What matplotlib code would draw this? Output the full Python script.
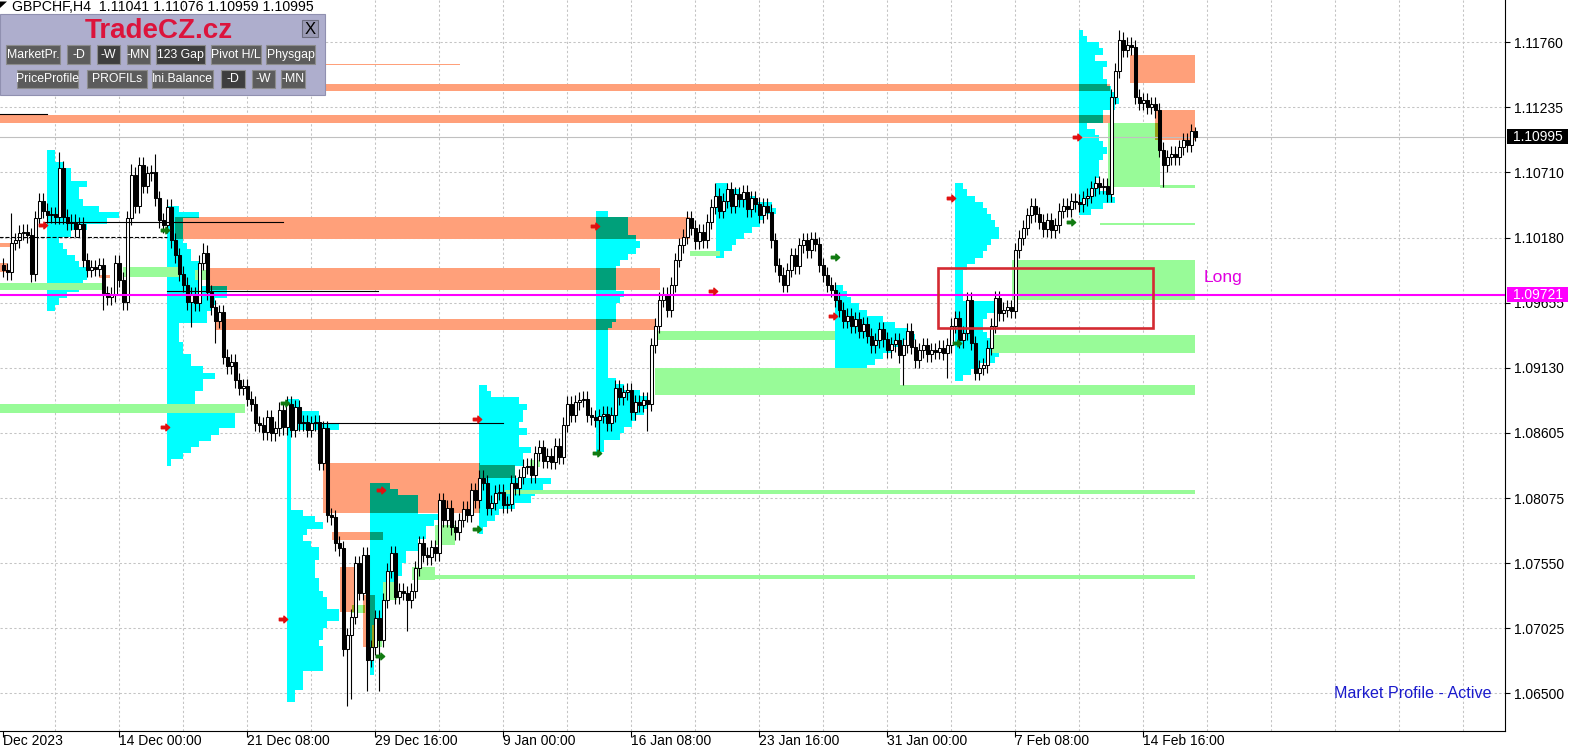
import numpy as np
import matplotlib
matplotlib.use("Agg")
import matplotlib.pyplot as plt
from matplotlib.patches import Rectangle, Polygon
from matplotlib.path import Path

plt.rcParams['font.family'] = ['Liberation Sans', 'DejaVu Sans']

PIP = 0.0001

# ── GBPCHF H4 candles (closes in pips, open = previous close) ─────────────
closes = [
    10992, 10990, 11014, 11016, 11022, 11023, 11020, 10989, 11034, 11048,
    11040, 11036, 11037, 11035, 11074, 11035, 11030, 11031, 11025, 11029,
    11000, 10992, 10994, 10993, 10996, 10973, 10970, 10972, 10998, 10984,
    10966, 11034, 11069, 11044, 11077, 11060, 11070, 11071, 11050, 11032,
    11028, 11043, 11016, 11004, 10989, 10980, 10966, 10972, 10965, 10998,
    11006, 10974, 10962, 10951, 10958, 10922, 10914, 10918, 10903, 10897,
    10898, 10888, 10884, 10868, 10867, 10861, 10873, 10860, 10864, 10879,
    10865, 10884, 10863, 10881, 10868, 10869, 10863, 10868, 10869, 10836,
    10864, 10794, 10792, 10771, 10767, 10686, 10697, 10712, 10755, 10731,
    10762, 10677, 10687, 10711, 10693, 10725, 10749, 10763, 10728, 10733,
    10731, 10725, 10733, 10751, 10771, 10762, 10760, 10768, 10763, 10806,
    10790, 10800, 10784, 10780, 10790, 10799, 10794, 10814, 10806, 10824,
    10820, 10800, 10804, 10812, 10813, 10802, 10803, 10820, 10816, 10825,
    10833, 10834, 10826, 10844, 10849, 10838, 10842, 10837, 10850, 10841,
    10867, 10884, 10875, 10885, 10887, 10888, 10875, 10873, 10871, 10874,
    10876, 10868, 10875, 10897, 10889, 10893, 10895, 10877, 10885, 10883,
    10887, 10884, 10931, 10947, 10968, 10972, 10960, 10980, 11000, 11012,
    11019, 11034, 11026, 11015, 11023, 11016, 11031, 11043, 11052, 11040,
    11048, 11057, 11044, 11053, 11049, 11055, 11041, 11050, 11045, 11036,
    11044, 11039, 11016, 10996, 10988, 10980, 10992, 11004, 10995, 11012,
    11016, 11008, 11017, 11013, 10996, 10988, 10980, 10976, 10968, 10960,
    10951, 10955, 10947, 10952, 10943, 10948, 10939, 10931, 10935, 10944,
    10936, 10927, 10932, 10935, 10923, 10931, 10943, 10930, 10919, 10927,
    10931, 10924, 10927, 10926, 10929, 10925, 10931, 10947, 10953, 10935,
    10941, 10968, 10933, 10909, 10913, 10915, 10929, 10947, 10969, 10957,
    10960, 10962, 10959, 11008, 11018, 11026, 11036, 11044, 11037, 11031,
    11025, 11032, 11024, 11028, 11040, 11044, 11041, 11048, 11047, 11045,
    11050, 11052, 11058, 11062, 11059, 11060, 11053, 11132, 11153, 11178,
    11170, 11174, 11172, 11132, 11127, 11129, 11124, 11126, 11121, 11089,
    11077, 11083, 11086, 11083, 11091, 11097, 11093, 11104, 11099.5,
]
first_open = 10996
wick = 6  # typical wick length, pips
high_marks = {2: 11038, 14: 11087, 32: 11078, 38: 11086, 50: 11014,
              178: 11062, 181: 11062, 279: 11186, 298: 11107.6}
low_marks = {7: 10982, 25: 10960, 47: 10946, 53: 10933, 86: 10640, 87: 10645,
             91: 10652, 94: 10652, 101: 10700, 149: 10844, 161: 10862,
             225: 10899, 236: 10905, 290: 11059, 298: 11095.9}

price_ticks = ["1.11760", "1.11235", "1.10710", "1.10180", "1.09655", "1.09130",
               "1.08605", "1.08075", "1.07550", "1.07025", "1.06500"]
date_labels = ["14 Dec 00:00", "21 Dec 08:00", "29 Dec 16:00", "9 Jan 00:00",
               "16 Jan 08:00", "23 Jan 16:00", "31 Jan 00:00", "7 Feb 08:00",
               "14 Feb 16:00"]
first_label = "Dec 2023"
first_tick_bar, bars_per_label, bars_per_grid = 29, 32, 16

last_price = 1.10995
long_level = 1.09721

# zones: (bar from, bar to, top pips, bottom pips)
salmon_zones = [
    (-1, 276.7, 11142, 11136.5), (-1, 276.7, 11117, 11110.5),
    (80.4, 114.2, 11158.5, 11157.3), (42.9, 171.7, 11034.7, 11016.9),
    (50.7, 164.2, 10993.5, 10975.7), (52.9, 162.9, 10952.2, 10943.4),
    (79.9, 119.2, 10835.9, 10795.5), (119.2, 127.9, 10834.3, 10823.8),
    (82.2, 94.9, 10780.1, 10773.7), (84.2, 88.7, 10751.9, 10715.5),
    (89.9, 92.9, 10729.2, 10687.2), (281.7, 297.9, 11165.6, 11142.9),
    (287.9, 297.9, 11121.1, 11096.9), (23.9, 26.7, 10987.8, 10985.4),
    (-1, 1.7, 11013.7, 11010.4), (-1, 0.9, 10997.5, 10990.2),
]
green_zones = [
    (-1, 60.4, 10883.6, 10876.3), (-1, 24.7, 10981.3, 10975.7),
    (29.9, 44.2, 10994.3, 10986.2), (47.9, 50.9, 10991.8, 10983.8),
    (162.9, 207.9, 10942.6, 10935.3), (162.9, 224.2, 10912.7, 10898.9),
    (162.9, 297.9, 10898.9, 10890.8), (252.2, 297.9, 10999.9, 10967.6),
    (247.2, 297.9, 10939.3, 10924.8), (125.4, 297.9, 10814.1, 10810.8),
    (106.7, 297.9, 10745.4, 10742.2), (274.2, 297.9, 11030.2, 11028.2),
    (276.2, 289.2, 11110.6, 11058.9), (289.2, 297.9, 11060.5, 11058.1),
    (171.7, 179.2, 11007.2, 11003.2), (107.9, 112.9, 10785.8, 10769.6),
    (102.2, 107.9, 10751.9, 10741.4), (94.9, 98.4, 10739.7, 10725.2),
    (87.2, 90.4, 10721.2, 10714.7), (92.2, 94.7, 10705.0, 10687.2),
    (131.7, 134.2, 10838.3, 10832.7),
]

# market profiles: first bar, top pips, bars per 5-pip row
profile_starts = [10.9, 40.9, 70.9, 91.7, 118.9, 148.2, 178.2, 207.9, 237.9, 268.9]
profile_tops = [11089, 11044, 10888, 10820, 10899, 11040, 11062, 10980, 11062, 11186]
profile_counts = [
    [2, 2, 4, 6, 6, 10, 8, 8, 9, 13, 18, 15, 10, 6, 3, 4, 5, 7, 8, 10, 10, 9, 8, 5, 3, 2],
    [3, 8, 4, 4, 4, 4, 5, 6, 6, 8, 8, 8, 8, 15, 15, 12, 11, 10, 10, 3, 3, 3, 4, 4, 6, 6,
     9, 12, 9, 9, 7, 7, 8, 17, 17, 17, 13, 11, 8, 6, 4, 1],
    [3, 3, 8, 8, 13, 1, 1, 1, 1, 1, 1, 1, 1, 1, 1, 1, 1, 1, 4, 7, 9, 5, 4, 6, 8, 8, 7, 7,
     7, 8, 8, 9, 10, 10, 13, 13, 10, 9, 9, 8, 9, 9, 9, 9, 4, 4, 4, 2, 2],
    [5, 7, 12, 12, 12, 17, 16, 14, 14, 12, 12, 9, 9, 8, 8, 6, 5, 5, 4, 4, 4, 3, 3, 3, 2, 2,
     1, 1, 1, 1, 1],
    [2, 3, 10, 12, 11, 11, 10, 12, 10, 10, 13, 11, 11, 9, 9, 18, 16, 14, 13, 9, 5, 4, 2, 1],
    [3, 8, 8, 8, 10, 11, 10, 8, 6, 5, 5, 5, 5, 7, 6, 5, 5, 5, 4, 3, 3, 3, 3, 3, 3, 3, 3, 5,
     7, 11, 13, 13, 12, 10, 9, 7, 6, 2, 2],
    [3, 6, 10, 14, 15, 12, 11, 9, 7, 5, 4, 2],
    [2, 3, 4, 6, 8, 12, 15, 18, 20, 17, 14, 12, 10, 8, 6, 4, 3],
    [2, 3, 5, 7, 8, 9, 10, 11, 11, 9, 8, 7, 5, 3, 2, 2, 2, 2, 2, 10, 10, 8, 7, 7, 8, 9, 9,
     11, 10, 6, 4, 2],
    [1, 2, 5, 6, 4, 7, 6, 6, 7, 8, 9, 10, 9, 6, 6, 2, 4, 5, 6, 7, 6, 5, 5, 5, 4, 5, 8, 9, 6, 3],
]

# level lines: (bar from, bar to, pips, style)
level_lines = [(10.4, 69.9, 11030.6, "-"), (-1, 40.9, 11018.5, "--"),
               (40.9, 93.7, 10974.9, "-"), (74.2, 124.9, 10868.2, "-"),
               (-1, 10.9, 11117.9, "-")]
# signal arrows (bar, pips)
red_bars = [9.9, 40.4, 69.9, 94.4, 118.4, 147.9, 177.4, 207.4, 236.9, 268.4]
red_pips = [11028, 10865, 10710, 10814, 10871.5, 11027.4, 10974.9, 10954.7, 11050, 11099.3]
green_bars = [40.4, 70.4, 94.2, 118.4, 148.4, 238.4, 266.9, 207.9]
green_pips = [11024.2, 10884.4, 10680, 10782.6, 10844, 10932.9, 11030.6, 11002.3]
# trade box (bar from, bar to, top pips, bottom pips)
long_box = (233.7, 287.4, 10993.5, 10945.0)

SALMON = (255, 160, 122)
CYAN = (0, 255, 255)
GREEN = (152, 251, 152)


def rgb(c):
    return tuple(v / 255 for v in c)


def mix(a, b):
    # MT4 background objects combine like a bitwise AND
    return tuple(x & y for x, y in zip(a, b))


def to_rect(z):
    return (z[0], z[1], z[3] * PIP, z[2] * PIP)


def overlap(a, b):
    x0, x1 = max(a[0], b[0]), min(a[1], b[1])
    y0, y1 = max(a[2], b[2]), min(a[3], b[3])
    if x1 > x0 and y1 > y0:
        return (x0, x1, y0, y1)
    return None


def draw_rect(ax, r, color, z):
    ax.add_patch(Rectangle((r[0], r[2]), r[1] - r[0], r[3] - r[2], fc=rgb(color),
                           ec="none", lw=0, zorder=z, antialiased=False))


fig = plt.figure(figsize=(15.75, 7.52), dpi=100)
fig.patch.set_facecolor("white")
ax = fig.add_axes([0, 21 / 752, 1505 / 1575, 731 / 752])
ax.set_xlim(-0.825, 375.4)
ax.set_ylim(1.06195, 1.12101)

# grid
for p in price_ticks:
    ax.axhline(float(p), color="#c4c4c4", lw=0.75, dashes=(2.2, 2.2), zorder=0)
for b in range(first_tick_bar - bars_per_grid, 376, bars_per_grid):
    ax.axvline(b, color="#c4c4c4", lw=0.75, dashes=(2.2, 2.2), zorder=0)

# zones and profiles
salmon = [to_rect(z) for z in salmon_zones]
green = [to_rect(z) for z in green_zones]
profile_rows = []
for start, top, counts in zip(profile_starts, profile_tops, profile_counts):
    for k, n in enumerate(counts):
        hi = (top - 5 * k) * PIP
        profile_rows.append((start, start + n, hi - 5 * PIP, hi))

for r in salmon:
    draw_rect(ax, r, SALMON, 1)
for r in profile_rows:
    draw_rect(ax, r, CYAN, 2)
for r in green:
    draw_rect(ax, r, GREEN, 3)
for s in salmon:
    for r in profile_rows:
        o = overlap(s, r)
        if o:
            draw_rect(ax, o, mix(SALMON, CYAN), 4)
    for r in green:
        o = overlap(s, r)
        if o:
            draw_rect(ax, o, mix(SALMON, GREEN), 4)

# candles
c = np.array(closes, float) * PIP
o = np.concatenate([[first_open * PIP], c[:-1]])
hi = np.maximum(o, c) + wick * PIP
lo = np.minimum(o, c) - wick * PIP
for i, v in high_marks.items():
    hi[i] = max(v * PIP, max(o[i], c[i]))
for i, v in low_marks.items():
    lo[i] = min(v * PIP, min(o[i], c[i]))
x = np.arange(len(c))
up = c >= o
ax.vlines(x, lo, hi, color="black", lw=0.8, zorder=6)
ax.bar(x[up], (c - o)[up], bottom=o[up], width=0.6, color="white",
       edgecolor="black", lw=0.75, zorder=7)
ax.bar(x[~up], (o - c)[~up], bottom=c[~up], width=0.6, color="black",
       edgecolor="black", lw=0.75, zorder=7)

# lines
for b0, b1, p, ls in level_lines:
    ax.plot([b0, b1], [p * PIP, p * PIP], color="black", lw=0.8, ls=ls, zorder=8)
ax.axhline(last_price, color="#c0c0c0", lw=0.8, zorder=5)
ax.axhline(long_level, color="#ff00ff", lw=1.5, zorder=8)
b0, b1, pt, pb = long_box
ax.add_patch(Rectangle((b0, pb * PIP), b1 - b0, (pt - pb) * PIP, fill=False,
                       ec="#d42a32", lw=1.9, zorder=9))
ax.text(b1 + 12.6, 10986 * PIP, "Long", color="#e000e0", fontsize=12.5,
        va="center", ha="left", zorder=9)

arrow = Path([(-1, 0.3), (0.1, 0.3), (0.1, 0.8), (1, 0), (0.1, -0.8), (0.1, -0.3),
              (-1, -0.3), (-1, 0.3)],
             [Path.MOVETO] + [Path.LINETO] * 6 + [Path.CLOSEPOLY])
ax.plot(red_bars, np.array(red_pips) * PIP, ls="none", marker=arrow, ms=6,
        color="#e01010", mec="#e01010", zorder=10)
ax.plot(green_bars, np.array(green_pips) * PIP, ls="none", marker=arrow, ms=6,
        color="#107a10", mec="#107a10", zorder=10)

# axes
for s in ("left", "top"):
    ax.spines[s].set_visible(False)
for s in ("right", "bottom"):
    ax.spines[s].set_color("black")
    ax.spines[s].set_linewidth(0.8)
ax.yaxis.tick_right()
ax.set_yticks([float(p) for p in price_ticks])
ax.set_yticklabels(price_ticks)
ax.tick_params(axis="y", direction="out", length=3.5, width=0.8, pad=3, labelsize=10)
tick_bars = [0] + [first_tick_bar + bars_per_label * k for k in range(len(date_labels))]
ax.set_xticks(tick_bars)
ax.set_xticklabels([first_label] + date_labels)
ax.tick_params(axis="x", direction="out", length=4, width=0.8, pad=-1.5, labelsize=10)
for lab in ax.get_xticklabels():
    lab.set_ha("left")

# price boxes on the right scale
for price, face in ((last_price, "black"), (long_level, "#ff00ff")):
    tr = ax.get_yaxis_transform()
    h = 15 * (ax.get_ylim()[1] - ax.get_ylim()[0]) / 731
    ax.add_patch(Rectangle((1.0013, price - h / 2), 0.0405, h, transform=tr,
                           fc=face, ec="none", clip_on=False, zorder=20))
    ax.text(1.0053, price, f"{price:.5f}", transform=tr, color="white", fontsize=10,
            va="center", ha="left", clip_on=False, zorder=21)

# ── terminal overlay: header and indicator panel ───────────────────────────
ui = fig.add_axes([0, 0, 1, 1], zorder=30)
ui.set_xlim(0, 1575)
ui.set_ylim(752, 0)
ui.axis("off")
ui.patch.set_alpha(0)
ui.add_patch(Polygon([(0, 1.5), (7, 1.5), (0, 8)], closed=True, fc="black", ec="none"))
ui.text(12, 7, "GBPCHF,H4  1.11041 1.11076 1.10959 1.10995", fontsize=10.2,
        va="center", ha="left", color="black")
ui.add_patch(Rectangle((0, 14), 325, 81, fc="#aeaecd", ec="#9090b0", lw=0.8))
ui.text(159, 31.5, "TradeCZ.cz", color="#dc143c", fontsize=20, fontweight="bold",
        ha="center", va="center")
ui.add_patch(Rectangle((302, 20), 16, 17, fc="#9a9ab4", ec="#6e6e80", lw=0.8))
ui.text(310, 29, "X", fontsize=12, ha="center", va="center", color="black")

buttons = [
    (6, 60, 45, 64, "MarketPr.", False), (67, 90, 45, 64, "-D", False),
    (97, 120, 45, 64, "-W", True), (127, 150, 45, 64, "-MN", False),
    (156, 205, 45, 64, "123 Gap", True), (211, 261, 45, 64, "Pivot H/L", False),
    (266, 315, 45, 64, "Physgap", False),
    (17, 78, 70, 88, "PriceProfile", False), (87, 147, 70, 88, "PROFILs", False),
    (152, 213, 70, 88, "Ini.Balance", False), (221, 245, 70, 88, "-D", True),
    (252, 275, 70, 88, "-W", False), (281, 305, 70, 88, "-MN", False),
]
for x0, x1, y0, y1, label, active in buttons:
    ui.add_patch(Rectangle((x0, y0), x1 - x0, y1 - y0,
                           fc="#3e3e3e" if active else "#5c5c5c", ec="#8c8c8c", lw=0.8))
    ui.text((x0 + x1) / 2, (y0 + y1) / 2 + 0.5, label, color="white", fontsize=8.8,
            ha="center", va="center", clip_on=True)

ui.text(1334, 693, "Market Profile - Active", color="#1a1acc", fontsize=11.6,
        ha="left", va="center")

fig.savefig("out.png", dpi=100)
